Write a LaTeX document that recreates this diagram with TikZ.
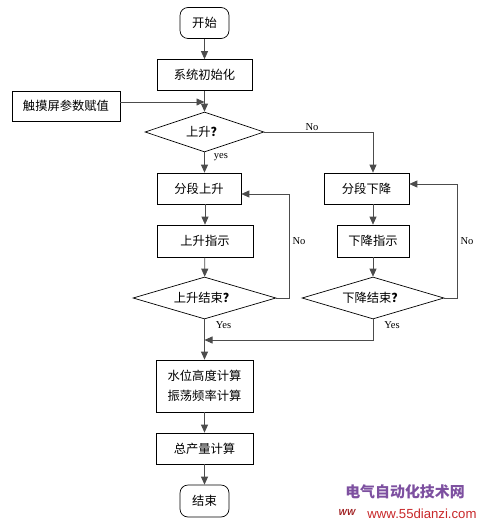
\documentclass[tikz,border=0pt]{standalone}
\usepackage{fontspec}
\setmainfont{Liberation Serif}
\newfontfamily\cjk{Noto Sans CJK SC}
\newfontfamily\websans{Liberation Sans}
\usetikzlibrary{shapes.geometric,arrows.meta}
\definecolor{wmpurple}{RGB}{125,80,160}
\definecolor{wmred}{RGB}{200,40,42}
\newcommand{\qmark}{{\bfseries ？}}
\begin{document}
\begin{tikzpicture}[x=0.02cm, y=-0.02cm,
  box/.style={draw, rectangle, inner sep=0pt, align=center, font=\cjk\fontsize{7}{11.5}\selectfont},
  term/.style={box, rounded corners=0.16cm},
  test/.style={draw, diamond, aspect=3, inner sep=0pt, font=\cjk\fontsize{7}{8}\selectfont},
  flow/.style={draw=black!70, -{Triangle[length=0.16cm,width=0.14cm]}},
  plain/.style={draw=black!70},
  lbl/.style={font=\fontsize{6}{7}\selectfont, inner sep=0pt}]
            \useasboundingbox (0,0) rectangle (482,527);
            \node[term, minimum width=0.98cm, minimum height=0.62cm] (start) at (204.5,23) {开始};
            \node[box, minimum width=1.9cm, minimum height=0.62cm] (init) at (204.5,75) {系统初始化};
            \node[box, minimum width=2.16cm, minimum height=0.6cm] (touch) at (66,106) {触摸屏参数赋值};
            \node[test, minimum width=2.38cm, minimum height=0.8cm] (up) at (204.5,132) {上升\qmark};
            \node[box, minimum width=1.68cm, minimum height=0.62cm] (segup) at (199,188.5) {分段上升};
            \node[box, minimum width=1.92cm, minimum height=0.64cm] (upind) at (205,241) {上升指示};
            \node[test, minimum width=2.86cm, minimum height=0.84cm] (upend) at (204.5,298) {上升结束\qmark};
            \node[box, minimum width=1.7cm, minimum height=0.62cm] (segdown) at (366.5,188.5) {分段下降};
            \node[box, minimum width=1.44cm, minimum height=0.64cm] (downind) at (373,241) {下降指示};
            \node[test, minimum width=2.84cm, minimum height=0.84cm] (downend) at (373,298) {下降结束\qmark};
            \node[box, minimum width=1.94cm, minimum height=1.04cm] (calc) at (204.5,386) {水位高度计算\\振荡频率计算};
            \node[box, minimum width=1.94cm, minimum height=0.62cm] (total) at (204.5,448.5) {总产量计算};
            \node[term, minimum width=0.98cm, minimum height=0.64cm] (stop) at (204.5,501) {结束};
            \coordinate (tj) at (204.5,102);
            \coordinate (rt) at (373,132);
            \coordinate (ul) at (289,194);
            \coordinate (dl) at (457,184);
            \coordinate (mg) at (204.5,340);
            \draw[flow] (start) -- (init);
            \draw[flow] (init) -- (up);
            \draw[flow] (touch.east |- tj) -- (tj);
            \draw[plain] (up.east) -- (rt);
            \draw[flow] (rt) -- (rt |- segdown.north);
            \draw[flow] (up.south) -- (up.south |- segup.north);
            \draw[flow] (segup.south -| upind.north) -- (upind.north);
            \draw[flow] (upind) -- (upend);
            \draw[flow] (upend.east) -| (ul) -- (segup.east |- ul);
            \draw[flow] (segdown.south -| downind.north) -- (downind.north);
            \draw[flow] (downind) -- (downend);
            \draw[flow] (downend.east) -| (dl) -- (segdown.east |- dl);
            \draw[flow] (upend) -- (calc);
            \draw[flow] (downend.south) |- (mg);
            \draw[flow] (calc) -- (total);
            \draw[flow] (total) -- (stop);
            \node[lbl] (lno) at (312,127) {No};
            \node[lbl] (lyes) at (221,157) {yes};
            \node[lbl] (lnoup) at (299,241) {No};
            \node[lbl] (lnodown) at (467,241) {No};
            \node[lbl] (lyesup) at (223.5,325) {Yes};
            \node[lbl] (lyesdown) at (392,325) {Yes};
            \node[text=wmpurple, font=\cjk\bfseries\fontsize{8.5}{10}\selectfont] (wmtitle) at (405,492) {电气自动化技术网};
            \node[text=wmred!80!black, font=\websans\bfseries\itshape\fontsize{5}{6}\selectfont] (wmlogo) at (347,512) {WW};
            \node[text=wmred, font=\websans\fontsize{7.5}{9}\selectfont] (wmurl) at (422,514) {www.55dianzi.com};
        \end{tikzpicture}
\end{document}
